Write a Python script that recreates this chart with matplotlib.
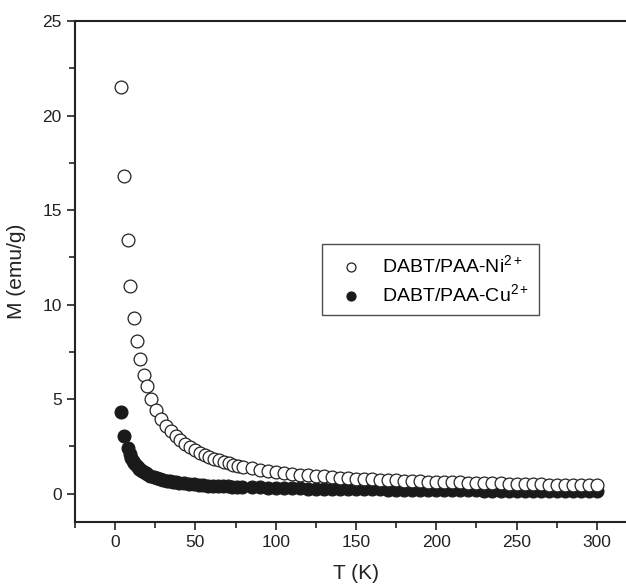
import matplotlib
matplotlib.use("Agg")
import matplotlib.pyplot as plt
from matplotlib.ticker import MultipleLocator

plt.rcParams['font.family'] = ['Liberation Sans', 'DejaVu Sans']
plt.rcParams['mathtext.fontset'] = 'custom'
plt.rcParams['mathtext.rm'] = 'Liberation Sans'
plt.rcParams['mathtext.it'] = 'Liberation Sans'

# datos
t_ni = [3.5, 5.6, 7.7, 9.5, 11.7, 13.7, 15.7, 17.8, 19.7, 22.6, 25.5, 28.6, 31.7,
        34.7, 37.7, 40.7, 43.7, 46.7, 49.7, 52.7, 55.7, 58.7, 61.7, 64.7, 67.7,
        70.7, 73.7, 76.7, 79.7, 85, 90, 95, 100, 105, 110, 115, 120, 125, 130,
        135, 140, 145, 150, 155, 160, 165, 170, 175, 180, 185, 190, 195, 200,
        205, 210, 215, 220, 225, 230, 235, 240, 245, 250, 255, 260, 265, 270,
        275, 280, 285, 290, 295, 300]
m_ni = [21.5, 16.8, 13.4, 11.0, 9.3, 8.05, 7.1, 6.3, 5.7, 5.0, 4.4, 3.95, 3.6,
        3.3, 3.05, 2.82, 2.62, 2.45, 2.3, 2.17, 2.05, 1.95, 1.85, 1.76, 1.68,
        1.61, 1.54, 1.48, 1.42, 1.34, 1.27, 1.21, 1.15, 1.10, 1.05, 1.01, 0.97,
        0.94, 0.91, 0.88, 0.85, 0.82, 0.80, 0.78, 0.76, 0.74, 0.72, 0.70, 0.68,
        0.67, 0.65, 0.64, 0.62, 0.61, 0.60, 0.59, 0.58, 0.57, 0.56, 0.55, 0.54,
        0.53, 0.52, 0.51, 0.50, 0.49, 0.48, 0.48, 0.47, 0.46, 0.46, 0.45, 0.44]

t_cu = [3.5, 5.6, 7.9, 9, 10, 11, 12, 13, 14, 15, 16, 17, 18, 19, 20, 22, 24,
        26, 28, 30, 32, 34, 36, 38, 40, 43, 46, 49, 52, 55, 58, 61, 64, 67, 70,
        73, 76, 79, 85, 90, 95, 100, 105, 110, 115, 120, 125, 130, 135, 140,
        145, 150, 155, 160, 165, 170, 175, 180, 185, 190, 195, 200, 205, 210,
        215, 220, 225, 230, 235, 240, 245, 250, 255, 260, 265, 270, 275, 280,
        285, 290, 295, 300]
m_cu = [4.3, 3.07, 2.41, 2.1, 1.9, 1.75, 1.62, 1.5, 1.4, 1.32, 1.25, 1.18, 1.12,
        1.07, 1.02, 0.94, 0.87, 0.81, 0.76, 0.72, 0.68, 0.65, 0.62, 0.60, 0.57,
        0.54, 0.51, 0.49, 0.47, 0.45, 0.43, 0.42, 0.40, 0.39, 0.38, 0.37, 0.36,
        0.35, 0.34, 0.33, 0.32, 0.31, 0.30, 0.29, 0.28, 0.27, 0.27, 0.26, 0.25,
        0.25, 0.24, 0.23, 0.23, 0.22, 0.22, 0.21, 0.21, 0.20, 0.20, 0.19, 0.19,
        0.18, 0.18, 0.18, 0.17, 0.17, 0.17, 0.16, 0.16, 0.16, 0.15, 0.15, 0.15,
        0.15, 0.14, 0.14, 0.14, 0.14, 0.13, 0.13, 0.13, 0.13]

fig = plt.figure(figsize=(6.26, 5.84), dpi=100)
ax = fig.add_axes([75 / 626, 62 / 584, 562 / 626, 501 / 584])

ax.scatter(t_ni, m_ni, s=85, facecolors='white', edgecolors='#222222',
           linewidths=0.9, label='DABT/PAA-Ni$^{2+}$', zorder=3)
ax.scatter(t_cu, m_cu, s=85, facecolors='#1a1a1a', edgecolors='#1a1a1a',
           linewidths=0.9, label='DABT/PAA-Cu$^{2+}$', zorder=2)

ax.set_xlim(-25, 325)
ax.set_ylim(-1.5, 25)
ax.xaxis.set_major_locator(MultipleLocator(50))
ax.xaxis.set_minor_locator(MultipleLocator(25))
ax.yaxis.set_major_locator(MultipleLocator(5))
ax.yaxis.set_minor_locator(MultipleLocator(2.5))
ax.tick_params(which='both', direction='out', top=False, right=False,
               width=1.2, labelsize=12.5, colors='#222222')
ax.tick_params(which='major', length=6)
ax.tick_params(which='minor', length=4)
for sp in ax.spines.values():
    sp.set_linewidth(1.5)
    sp.set_color('#222222')

ax.set_xlabel('T (K)', fontsize=15, color='#222222', labelpad=10)
ax.set_ylabel('M (emu/g)', fontsize=15, color='#222222', labelpad=12)

leg = ax.legend(loc='upper left', bbox_to_anchor=(247 / 562, 1 - 223 / 501),
                borderaxespad=0, fontsize=14, frameon=True, fancybox=False,
                borderpad=0.5, handletextpad=0.6, labelspacing=0.4,
                markerscale=0.7)
leg.get_frame().set_edgecolor('#222222')
leg.get_frame().set_linewidth(1.0)

fig.savefig('out.png', dpi=100)
